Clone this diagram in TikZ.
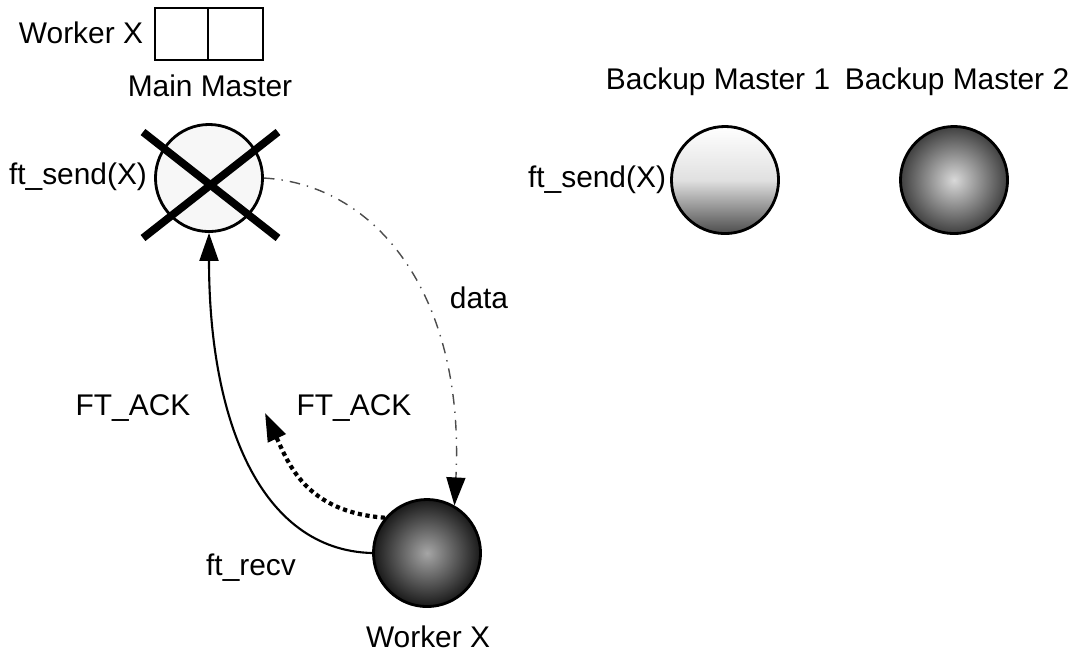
\documentclass[tikz,border=0pt]{standalone}
\usepackage{fontspec}
\setmainfont{Liberation Sans}
\usetikzlibrary{arrows.meta}
\tikzset{
  lbl/.style={font=\fontsize{8.5}{10}\selectfont, inner sep=0pt},
  master/.style={circle, draw=black, thick, minimum size=1.07cm, inner sep=0pt},
  cross/.style={line width=2.2pt, line cap=butt},
  tip/.style={-{Triangle[length=2.8mm,width=1.9mm]}},
}
\begin{document}
\begin{tikzpicture}[x=0.01cm,y=-0.01cm]
\useasboundingbox (0,0) rectangle (1083,653);
% main master with the worker box
\node[lbl] (wtop) at (81,33) {Worker X};
\draw[thick] (155,8) rectangle (263,60);
\draw[thick] (208,8) -- (208,60);
\node[lbl] (mainlbl) at (210,86) {Main Master};
\node[master, fill=black!3] (main) at (209,178) {};
\node[lbl] (send1) at (78,177) {ft\_send(X)};
\draw[cross] (143,132) -- (278,238);
\draw[cross] (278,132) -- (143,238);
% backup masters
\node[lbl] (bk1lbl) at (718,82) {Backup Master 1};
\node[lbl] (bk2lbl) at (957,82) {Backup Master 2};
\node[master, top color=white, bottom color=black!70, middle color=black!12] (bk1) at (725,180) {};
\node[master, inner color=black!15, outer color=black!75] (bk2) at (954,180) {};
\node[lbl] (send2) at (597,180) {ft\_send(X)};
% worker
\node[master, inner color=black!35, outer color=black!90] (worker) at (427,553) {};
\node[lbl] (wlbl) at (428,637) {Worker X};
\node[lbl] (recv) at (251,568) {ft\_recv};
\node[lbl] (ack1) at (133,408) {FT\_ACK};
\node[lbl] (ack2) at (354,408) {FT\_ACK};
\node[lbl] (data) at (479,298) {data};
\coordinate (ackend) at (265,413);
% messages
\draw[semithick, tip] (worker.west) .. controls (260,550) and (209,420) .. (main.south);
\draw[black!70, thin, dash dot, -{Triangle[length=2.8mm,width=1.9mm,color=black]}] (main.east) .. controls (380,185) and (465,300) .. (worker.60);
\draw[line width=1.2pt, densely dotted, tip] (worker.140) .. controls (305,512) and (288,462) .. (ackend);
\end{tikzpicture}
\end{document}
